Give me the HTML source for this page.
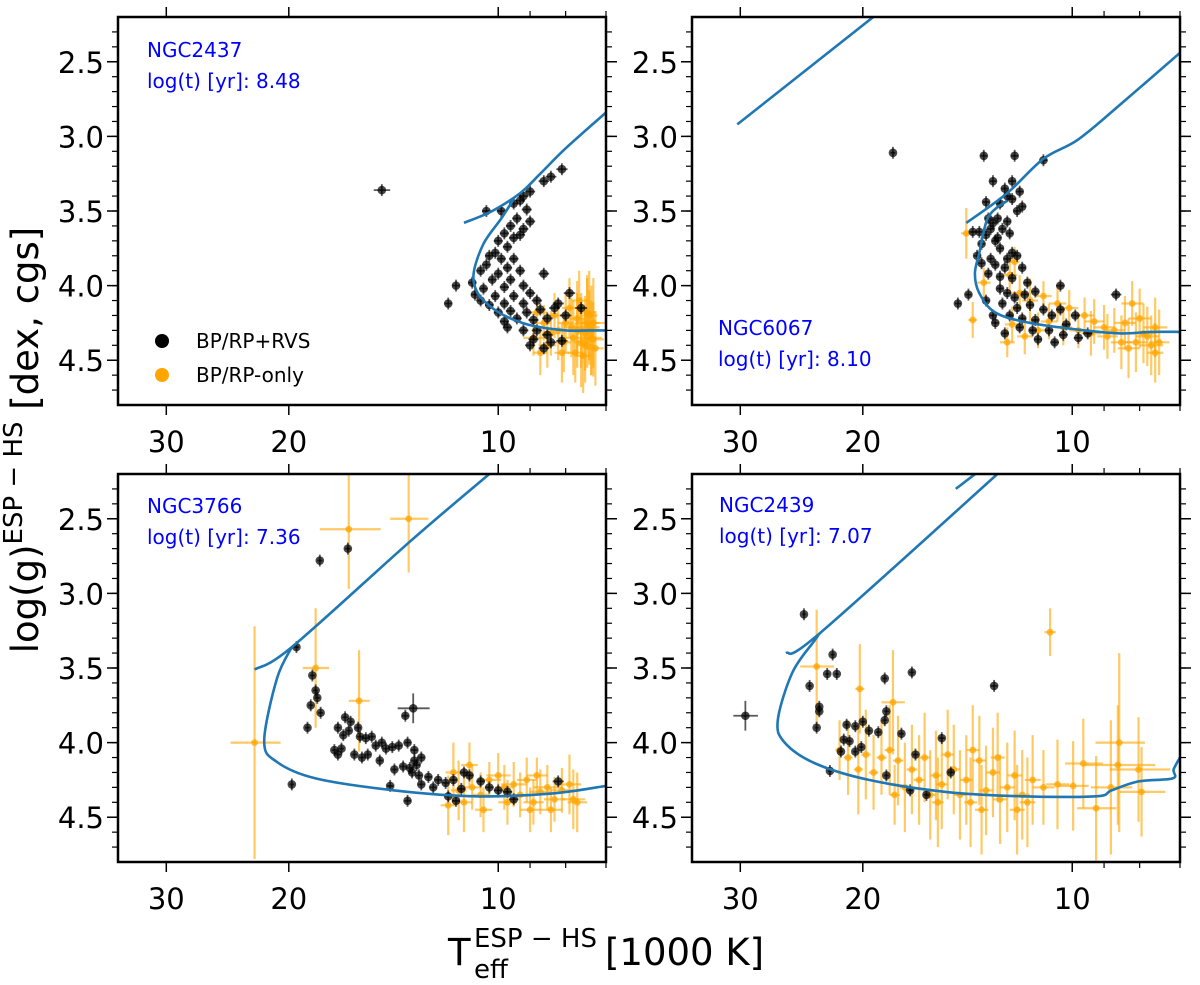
<!DOCTYPE html>
<html><head><meta charset="utf-8"><style>
html,body{margin:0;padding:0;background:#fff}
svg{display:block;font-family:"DejaVu Sans","Liberation Sans",sans-serif}
</style></head><body>
<svg id="fig" width="1200" height="985" viewBox="0 0 1200 985" xmlns="http://www.w3.org/2000/svg">
<g>
<text x="448" y="965" font-size="37">T</text>
<text x="474" y="947" font-size="26">ESP − HS</text>
<text x="474" y="978" font-size="26">eff</text>
<text x="605" y="965" font-size="37">[1000 K]</text>
</g>
<text transform="translate(38,440) rotate(-90)" font-size="37" text-anchor="middle">log(g)<tspan font-size="26" dy="-16">ESP − HS</tspan><tspan dy="16"> [dex, cgs]</tspan></text>
</svg>
<script>
const xTicks=[30,20,10];
const xMinor=[9,8,7];
const yTicks=[2.5,3.0,3.5,4.0,4.5];
const yTickLabels=["2.5","3.0","3.5","4.0","4.5"];
const panelNames=["NGC2437","NGC6067","NGC3766","NGC2439"];
const panelAges=["8.48","8.10","7.36","7.07"];

const p1Black=[[8.1,3.22],[8.4,3.27],[8.6,3.3],[9.0,3.37],[9.2,3.40],[9.3,3.43],[9.5,3.45],[9.1,3.49],[9.9,3.50],[10.4,3.50],[9.4,3.55],[9.0,3.57],[9.6,3.60],[9.2,3.62],[9.8,3.65],[9.5,3.68],[9.3,3.66],[10.0,3.70],[9.7,3.74],[10.1,3.78],[9.9,3.82],[10.3,3.80],[9.5,3.82],[10.4,3.86],[9.7,3.88],[10.0,3.92],[10.6,3.90],[9.3,3.90],[8.6,3.92],[9.6,3.96],[10.2,3.96],[10.9,3.98],[11.5,4.0],[10.5,4.02],[9.8,4.01],[9.2,4.0],[10.8,4.06],[10.1,4.07],[9.5,4.07],[9.0,4.05],[11.8,4.12],[10.6,4.10],[10.3,4.13],[9.8,4.12],[9.2,4.12],[8.8,4.10],[10.0,4.18],[9.6,4.17],[9.1,4.18],[8.7,4.16],[8.3,4.15],[9.8,4.24],[9.4,4.22],[8.9,4.23],[8.5,4.22],[9.7,4.28],[9.2,4.30],[8.8,4.30],[8.5,4.33],[8.9,4.36],[8.4,4.38],[8.1,4.37],[9.0,4.40],[8.6,4.42],[8.2,4.12],[7.9,4.05],[8.0,4.20],[7.6,4.15],[14.7,3.36,0.4,0.04]];
const p1Orange=[[8.8,4.18,0.3,0.1],[8.6,4.25,0.2,0.12],[8.9,4.35,0.3,0.12],[8.5,4.40,0.25,0.15],[8.7,4.45,0.2,0.15],[8.3,4.20,0.2,0.15],[8.2,4.30,0.2,0.2],[8.1,4.45,0.2,0.2],[8.0,4.25,0.2,0.2],[7.9,4.15,0.2,0.2],[7.8,4.35,0.2,0.25],[7.7,4.22,0.2,0.25],[7.6,4.30,0.2,0.25],[7.5,4.40,0.2,0.25],[7.45,4.18,0.2,0.25],[7.4,4.28,0.25,0.25],[7.35,4.35,0.25,0.25],[7.3,4.25,0.3,0.3],[7.25,4.42,0.2,0.25],[7.55,4.47,0.2,0.25],[7.65,4.10,0.2,0.2],[7.75,4.45,0.2,0.2],[7.5,4.32,0.2,0.25],[7.4,4.2,0.2,0.3],[7.6,4.38,0.2,0.3],[7.3,4.36,0.25,0.25],[7.7,4.30,0.25,0.25],[7.85,4.28,0.2,0.2],[8.05,4.38,0.2,0.2],[8.4,4.32,0.25,0.15],[7.45,4.25,0.3,0.3],[7.35,4.30,0.3,0.3]];
const p1Iso=[[[7.0,2.84],[8.0,3.08],[8.7,3.25],[9.3,3.38],[10.2,3.50],[11.2,3.58]],[[9.5,3.42],[9.9,3.55],[10.5,3.72],[10.85,3.92],[10.7,4.05],[10.2,4.15],[9.6,4.22],[8.9,4.27],[8.0,4.30],[7.4,4.30],[7.0,4.30]]];

const p2Black=[[18.1,3.11],[13.4,3.13],[12.1,3.13],[11.0,3.16],[13.0,3.30],[12.2,3.30],[12.5,3.35],[11.9,3.37],[12.4,3.40],[13.3,3.44],[12.7,3.45],[12.2,3.42],[11.8,3.47],[12.0,3.50],[13.2,3.55],[13.0,3.58],[12.8,3.55],[12.4,3.57],[13.1,3.62],[12.6,3.62],[13.6,3.64],[13.9,3.64],[13.3,3.66],[12.8,3.68],[12.9,3.70],[12.3,3.65],[13.5,3.72],[12.7,3.75],[12.2,3.78],[13.7,3.80],[13.1,3.82],[12.4,3.82],[12.0,3.80],[13.5,3.85],[12.9,3.86],[12.5,3.88],[11.8,3.88],[13.2,3.92],[12.7,3.94],[12.2,3.95],[11.6,3.98],[14.6,4.12],[14.1,4.06],[13.3,4.10],[12.7,4.02],[12.4,4.05],[12.1,4.08],[11.7,4.06],[11.3,4.04],[10.4,4.0],[12.6,4.12],[12.0,4.15],[11.5,4.13],[11.0,4.16],[10.4,4.16],[9.9,4.20],[12.3,4.20],[11.8,4.22],[11.3,4.23],[10.7,4.20],[10.2,4.26],[12.5,4.32],[11.9,4.28],[11.4,4.30],[10.8,4.30],[10.3,4.33],[9.8,4.35],[11.2,4.36],[10.6,4.38],[9.5,4.32],[8.65,4.06],[12.9,4.25],[13.0,4.20]];
const p2Orange=[[14.2,3.65,0.25,0.17],[13.9,4.23,0.2,0.12],[13.4,3.98,0.3,0.1],[12.3,3.93,0.3,0.12],[12.1,3.84,0.2,0.1],[11.9,4.05,0.3,0.12],[11.5,4.1,0.3,0.15],[11.0,4.07,0.3,0.1],[10.5,4.12,0.3,0.12],[10.1,4.15,0.3,0.12],[9.6,4.20,0.3,0.12],[9.3,4.24,0.3,0.15],[9.0,4.28,0.3,0.15],[8.7,4.30,0.3,0.15],[8.4,4.25,0.3,0.18],[8.2,4.12,0.3,0.15],[8.0,4.22,0.3,0.2],[7.8,4.34,0.3,0.2],[7.6,4.28,0.3,0.2],[7.5,4.38,0.25,0.22],[7.7,4.40,0.3,0.2],[8.1,4.38,0.3,0.2],[8.5,4.38,0.3,0.18],[8.9,4.34,0.3,0.15],[9.4,4.32,0.3,0.15],[9.8,4.30,0.3,0.12],[10.3,4.28,0.3,0.12],[10.8,4.24,0.3,0.12],[11.2,4.30,0.3,0.12],[11.7,4.34,0.3,0.12],[12.2,4.26,0.3,0.12],[12.4,4.38,0.3,0.1],[7.6,4.45,0.2,0.2],[8.3,4.42,0.3,0.2],[7.9,4.32,0.3,0.2]];
const p2Iso=[[[30.3,2.92],[18.5,2.13]],[[7.0,2.44],[8.5,2.78],[9.8,3.02],[11.0,3.15],[12.4,3.38],[14.2,3.58]],[[12.4,3.43],[13.2,3.54],[13.6,3.78],[13.8,3.92],[13.6,4.05],[12.9,4.18],[11.5,4.25],[9.6,4.30],[8.5,4.32],[7.7,4.31],[7.0,4.31]]];

const p3Black=[[16.45,2.70],[18.05,2.78],[19.5,3.36],[19.8,4.28],[13.25,3.77,0.7,0.1],[18.5,3.55],[18.3,3.65],[18.2,3.70],[18.6,3.75],[18.0,3.80],[18.8,3.90],[17.0,3.90],[16.6,3.83],[16.3,3.86],[16.7,3.95],[16.4,3.92],[15.9,3.90],[15.8,3.96],[15.5,3.97],[15.2,3.96],[15.0,4.02],[14.7,4.00],[14.5,4.04],[13.6,3.82],[14.2,4.03],[13.9,4.02],[13.5,4.00],[13.2,4.05],[12.9,4.10],[13.1,4.15],[13.4,4.17],[13.7,4.16],[14.1,4.18],[15.4,4.08],[15.7,4.10],[16.1,4.08],[16.8,4.04],[17.2,4.05],[17.0,4.08],[14.8,4.12],[13.3,4.20],[13.0,4.22],[12.6,4.23],[12.2,4.25],[11.9,4.27],[11.6,4.25],[11.2,4.20],[11.0,4.22],[10.6,4.26],[12.9,4.28],[12.4,4.30],[11.8,4.36],[11.5,4.39],[10.3,4.30],[10.0,4.32],[9.5,4.38],[8.2,4.26],[14.3,4.29],[13.5,4.39],[11.3,4.31],[9.7,4.33],[13.2,4.12]];
const p3Orange=[[22.4,4.0,1.85,0.78],[16.4,2.57,1.65,0.4],[13.45,2.5,0.85,0.36],[18.3,3.50,0.8,0.4],[15.85,3.72,0.55,0.34],[11.6,4.2,0.3,0.2],[11.4,4.32,0.3,0.2],[11.8,4.42,0.3,0.2],[11.2,4.40,0.3,0.2],[10.9,4.30,0.3,0.15],[10.6,4.35,0.3,0.15],[10.3,4.25,0.4,0.12],[10.0,4.22,0.4,0.15],[9.8,4.30,0.3,0.15],[9.5,4.28,0.4,0.15],[9.3,4.35,0.3,0.15],[9.1,4.25,0.3,0.15],[8.9,4.40,0.3,0.15],[8.7,4.33,0.3,0.15],[8.5,4.30,0.4,0.15],[8.3,4.38,0.3,0.15],[8.1,4.32,0.3,0.15],[7.9,4.28,0.3,0.2],[7.8,4.38,0.3,0.2],[7.7,4.40,0.25,0.2],[9.7,4.40,0.3,0.15],[10.5,4.45,0.3,0.15],[8.8,4.22,0.3,0.12],[11.0,4.15,0.3,0.15],[9.0,4.45,0.3,0.15],[8.4,4.45,0.3,0.15]];
const p3Iso=[[[10.0,2.15],[13.3,2.64],[19.8,3.36],[22.4,3.51]],[[19.8,3.36],[20.8,3.57],[21.7,3.99],[20.8,4.13],[18.3,4.24],[14.1,4.32],[10.8,4.36],[8.35,4.34],[7.0,4.29]]];

const p4Black=[[29.5,3.82,1.2,0.1],[24.3,3.14],[22.1,3.41],[22.5,3.54],[21.8,3.54],[23.85,3.62],[23.1,3.76],[23.1,3.79],[23.3,3.90],[18.6,3.57],[17.0,3.53],[18.5,3.79],[18.6,3.85],[17.6,3.94],[21.1,3.88],[20.5,3.89],[20.0,3.86],[19.6,3.92],[19.0,3.93],[20.9,3.99],[21.3,3.98],[20.5,4.06],[20.1,4.03],[21.5,4.06],[22.3,4.19],[18.5,4.22],[16.8,4.08],[15.4,3.97],[17.1,4.32],[16.2,4.35],[14.95,4.20],[12.95,3.62]];
const p4Orange=[[23.3,3.49,1.3,0.38],[10.76,3.26,0.0,0.16],[20.2,3.64,0.3,0.3],[18.1,3.73,0.7,0.35],[8.56,4.0,0.7,0.6],[8.03,4.18,0.8,0.35],[7.95,4.33,0.6,0.3],[9.64,4.14,0.6,0.3],[9.97,4.29,0.5,0.3],[9.24,4.44,0.6,0.35],[8.6,4.15,1.0,0.4],[8.8,4.30,0.6,0.45],[10.5,4.28,0.4,0.3],[11.0,4.30,0.4,0.25],[11.4,4.25,0.3,0.3],[11.8,4.35,0.3,0.3],[12.1,4.22,0.3,0.3],[12.4,4.30,0.3,0.3],[12.7,4.38,0.3,0.3],[13.0,4.20,0.3,0.3],[13.3,4.32,0.3,0.3],[13.6,4.12,0.3,0.3],[13.9,4.05,0.3,0.3],[14.2,4.25,0.3,0.3],[14.5,4.35,0.3,0.3],[14.8,4.18,0.3,0.3],[15.1,4.08,0.3,0.3],[15.4,4.28,0.3,0.3],[15.7,4.22,0.3,0.3],[16.0,4.35,0.3,0.3],[16.3,4.10,0.3,0.3],[16.6,4.25,0.3,0.3],[17.0,4.18,0.3,0.3],[17.4,4.30,0.3,0.3],[17.8,4.12,0.3,0.3],[18.3,4.05,0.3,0.3],[18.8,4.10,0.3,0.25],[19.3,4.20,0.3,0.25],[19.8,4.08,0.3,0.3],[20.3,4.18,0.3,0.3],[21.0,4.10,0.3,0.25],[21.6,4.05,0.3,0.2],[18.0,4.35,0.3,0.2],[12.0,4.45,0.3,0.3],[13.5,4.45,0.3,0.3],[14.0,4.40,0.3,0.3],[12.8,4.10,0.3,0.3],[11.6,4.40,0.3,0.3],[15.6,4.40,0.3,0.3]];
const p4Iso=[[[14.7,2.30],[13.7,2.19]],[[12.6,2.17],[23.1,3.27],[25.8,3.40]],[[23.1,3.27],[23.5,3.32],[25.25,3.53],[26.5,3.85],[25.9,4.0],[23.4,4.14],[19.6,4.25],[15.2,4.33],[11.8,4.36],[9.24,4.36],[8.78,4.32],[8.03,4.26],[7.17,4.24],[7.15,4.18],[7.0,4.10]]];

const NS="http://www.w3.org/2000/svg";
const svg=document.getElementById('fig');
function mk(tag,attrs,parent){const e=document.createElementNS(NS,tag);for(const k in attrs)e.setAttribute(k,attrs[k]);(parent||svg).appendChild(e);return e;}
function smoothPath(pts){
 if(pts.length<3)return 'M'+pts.map(p=>p[0].toFixed(1)+','+p[1].toFixed(1)).join(' L');
 let d='M'+pts[0][0].toFixed(1)+','+pts[0][1].toFixed(1);
 for(let i=0;i<pts.length-1;i++){
  const p0=pts[Math.max(i-1,0)],p1=pts[i],p2=pts[i+1],p3=pts[Math.min(i+2,pts.length-1)];
  const c1=[p1[0]+(p2[0]-p0[0])/6,p1[1]+(p2[1]-p0[1])/6];
  const c2=[p2[0]-(p3[0]-p1[0])/6,p2[1]-(p3[1]-p1[1])/6];
  d+=' C'+c1[0].toFixed(1)+','+c1[1].toFixed(1)+' '+c2[0].toFixed(1)+','+c2[1].toFixed(1)+' '+p2[0].toFixed(1)+','+p2[1].toFixed(1);
 }
 return d;
}
const TMAX=35.2,TMIN=7.0,GMIN=2.2,GMAX=4.8,W=488,H=388;
const panels=[
 {x:118,y:17,black:p1Black,orange:p1Orange,iso:p1Iso,tx:147,ty:57,legend:true},
 {x:692,y:17,black:p2Black,orange:p2Orange,iso:p2Iso,tx:718,ty:335},
 {x:118,y:474,black:p3Black,orange:p3Orange,iso:p3Iso,tx:147,ty:513},
 {x:692,y:474,black:p4Black,orange:p4Orange,iso:p4Iso,tx:719,ty:512}];
panels.forEach((p,i)=>{
 const sx=t=>p.x+W*Math.log10(TMAX/t)/Math.log10(TMAX/TMIN);
 const sy=g=>p.y+H*(g-GMIN)/(GMAX-GMIN);
 const g=mk('g',{});
 
 
 const cp=mk('clipPath',{id:'cp'+i},g);
 mk('rect',{x:p.x,y:p.y,width:W,height:H},cp);
 const plot=mk('g',{'clip-path':'url(#cp'+i+')'},g);
 p.orange.forEach(d=>{
  const e=mk('g',{stroke:'#FFA500','stroke-opacity':0.6,'stroke-width':2.2,fill:'#FFA500','fill-opacity':0.75},plot);
  
  
  const cx=sx(d[0]),cy=sy(d[1]);
  const et=d[2]||0.2,eg=d[3]||0.1;
  mk('line',{x1:sx(d[0]+et),x2:sx(Math.max(d[0]-et,0.1)),y1:cy,y2:cy},e);
  mk('line',{x1:cx,x2:cx,y1:sy(d[1]-eg),y2:sy(d[1]+eg)},e);
  mk('circle',{cx:cx,cy:cy,r:3.4,stroke:'none'},e);
 });
 p.black.forEach(d=>{
  const e=mk('g',{stroke:'#000','stroke-opacity':0.65,'stroke-width':1.8,fill:'#000','fill-opacity':0.72},plot);
  
  
  const cx=sx(d[0]),cy=sy(d[1]);
  const et=d[2]||0.15,eg=d[3]||0.04;
  mk('line',{x1:sx(d[0]+et),x2:sx(d[0]-et),y1:cy,y2:cy},e);
  mk('line',{x1:cx,x2:cx,y1:sy(d[1]-eg),y2:sy(d[1]+eg)},e);
  mk('circle',{cx:cx,cy:cy,r:4.3,stroke:'none'},e);
 });
 p.iso.forEach(seg=>{
  const pts=seg.map(q=>[sx(q[0]),sy(q[1])]);
  const l=mk('path',{d:smoothPath(pts),fill:'none',stroke:'#1f77b4','stroke-width':2.6,'stroke-linejoin':'round'},plot);
  
  
 });
 const fr=mk('rect',{x:p.x,y:p.y,width:W,height:H,fill:'none',stroke:'#000','stroke-width':2.5},g);
 
 
 xTicks.forEach(t=>{
  const x=sx(t);
  mk('line',{x1:x,x2:x,y1:p.y+H,y2:p.y+H+10,stroke:'#000','stroke-width':1.5},g);
  mk('line',{x1:x,x2:x,y1:p.y,y2:p.y-10,stroke:'#000','stroke-width':1.5},g);
  const tl=mk('text',{x:x,y:p.y+H+47,'font-size':29,'text-anchor':'middle'},g);
  
  
  tl.textContent=String(t);
 });
 xMinor.forEach(t=>{
  const x=sx(t);
  mk('line',{x1:x,x2:x,y1:p.y+H,y2:p.y+H+6,stroke:'#000','stroke-width':1.2},g);
  mk('line',{x1:x,x2:x,y1:p.y,y2:p.y-6,stroke:'#000','stroke-width':1.2},g);
 });
 for(let v=2.3;v<4.75;v+=0.1){
  const y=sy(v);
  mk('line',{x1:p.x,x2:p.x-6,y1:y,y2:y,stroke:'#000','stroke-width':1.2},g);
  mk('line',{x1:p.x+W,x2:p.x+W+6,y1:y,y2:y,stroke:'#000','stroke-width':1.2},g);
 }
 yTicks.forEach((v,k)=>{
  const y=sy(v);
  mk('line',{x1:p.x,x2:p.x-11,y1:y,y2:y,stroke:'#000','stroke-width':1.5},g);
  mk('line',{x1:p.x+W,x2:p.x+W+11,y1:y,y2:y,stroke:'#000','stroke-width':1.5},g);
  const tl=mk('text',{x:p.x-14,y:y+11,'font-size':29,'text-anchor':'end'},g);
  
  
  tl.textContent=yTickLabels[k];
 });
 const t1=mk('text',{x:p.tx,y:p.ty,'font-size':20,fill:'#0000ff'},g);
 
 
 t1.textContent=panelNames[i];
 const t2=mk('text',{x:p.tx,y:p.ty+31,'font-size':20,fill:'#0000ff'},g);
 
 
 t2.textContent='log(t) [yr]: '+panelAges[i];
 if(p.legend){
  const lg=mk('g',{},g);
  
  
  const e1=mk('g',{},lg);
  
  
  mk('circle',{cx:162,cy:341,r:7,fill:'#000'},e1);
  const a=mk('text',{x:196,y:348,'font-size':20},e1);a.textContent='BP/RP+RVS';
  const e2=mk('g',{},lg);
  
  
  mk('circle',{cx:162,cy:375,r:7,fill:'#FFA500'},e2);
  const b=mk('text',{x:196,y:382,'font-size':20},e2);b.textContent='BP/RP-only';
 }
});
</script>
</body></html>
